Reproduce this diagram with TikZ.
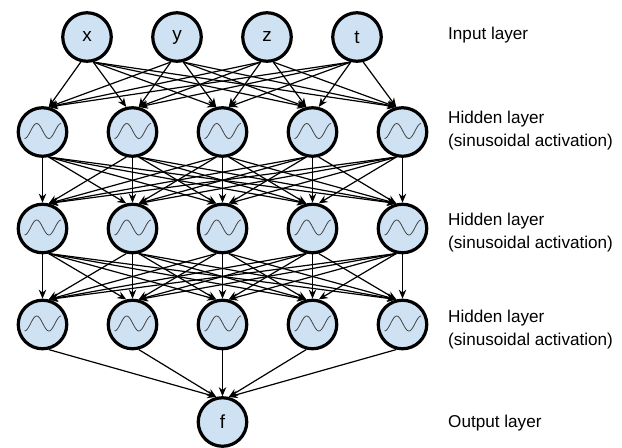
\documentclass[tikz,border=0pt]{standalone}
\usepackage{fontspec}
\setmainfont{Liberation Sans}
\usetikzlibrary{arrows.meta}
\definecolor{cellblue}{HTML}{CFE2F3}
\definecolor{wavegray}{HTML}{444444}

\begin{document}
\begin{tikzpicture}[x=1bp, y=-1bp,
    neuron/.style={circle, draw, line width=3.2bp, fill=cellblue, minimum size=48.5bp, inner sep=0pt, font=\fontsize{19}{22}\selectfont},
    link/.style={-{Stealth[length=9bp, width=7.5bp]}, line width=1.2bp},
    layertext/.style={anchor=west, align=left, inner sep=0pt, font=\fontsize{17.2}{23}\selectfont}]

    \useasboundingbox (0, 0) rectangle (622, 448);

    % Input layer
    \node[neuron] (in1) at (87, 37) {x};
    \node[neuron] (in2) at (177, 37) {y};
    \node[neuron] (in3) at (267, 37) {z};
    \node[neuron] (in4) at (357, 37) {t};

    % Hidden layers and output
    \foreach \i/\px in {1/42.5, 2/132.5, 3/222.5, 4/312.5, 5/402.5} {
        \node[neuron] (ha\i) at (\px, 132) {};
        \node[neuron] (hb\i) at (\px, 228.5) {};
        \node[neuron] (hc\i) at (\px, 324.5) {};
    }
    \node[neuron] (out) at (222.5, 422) {f};

    % Sine wave inside each hidden neuron
    \foreach \i in {1,...,5} {
        \foreach \h in {ha, hb, hc} {
            \draw[wavegray, line width=0.8bp, shift={(\h\i.center)}, domain=-18:18.6, smooth, samples=40, variable=\t]
                plot ({\t}, {7.5*cos(180*(\t+18)/12.2) - 1});
        }
    }

    % Connections (leave near the bottom, arrive near the top)
    \foreach \i in {1,...,4}
        \foreach \j in {1,...,5} {
            \pgfmathtruncatemacro\sa{-90+14*sign(\j-\i-0.5)}
            \pgfmathtruncatemacro\ea{90+14*sign(\j-\i-0.5)}
            \draw[link] (in\i.\sa) -- (ha\j.\ea);
        }
    \foreach \i in {1,...,5}
        \foreach \j in {1,...,5} {
            \pgfmathtruncatemacro\sa{-90+14*sign(\j-\i)}
            \pgfmathtruncatemacro\ea{90+14*sign(\j-\i)}
            \draw[link] (ha\i.\sa) -- (hb\j.\ea);
            \draw[link] (hb\i.\sa) -- (hc\j.\ea);
        }
    \foreach \i in {1,...,5} {
        \pgfmathtruncatemacro\sa{-90+14*sign(3-\i)}
        \pgfmathtruncatemacro\ea{90+14*sign(3-\i)}
        \draw[link] (hc\i.\sa) -- (out.\ea);
    }

    % Layer labels
    \node[layertext] (lin) at (448, 35) {Input layer};
    \node[layertext] (lha) at (448, 131) {Hidden layer\\(sinusoidal activation)};
    \node[layertext] (lhb) at (448, 232.5) {Hidden layer\\(sinusoidal activation)};
    \node[layertext] (lhc) at (448, 330) {Hidden layer\\(sinusoidal activation)};
    \node[layertext] (lout) at (448, 423) {Output layer};
\end{tikzpicture}
\end{document}
